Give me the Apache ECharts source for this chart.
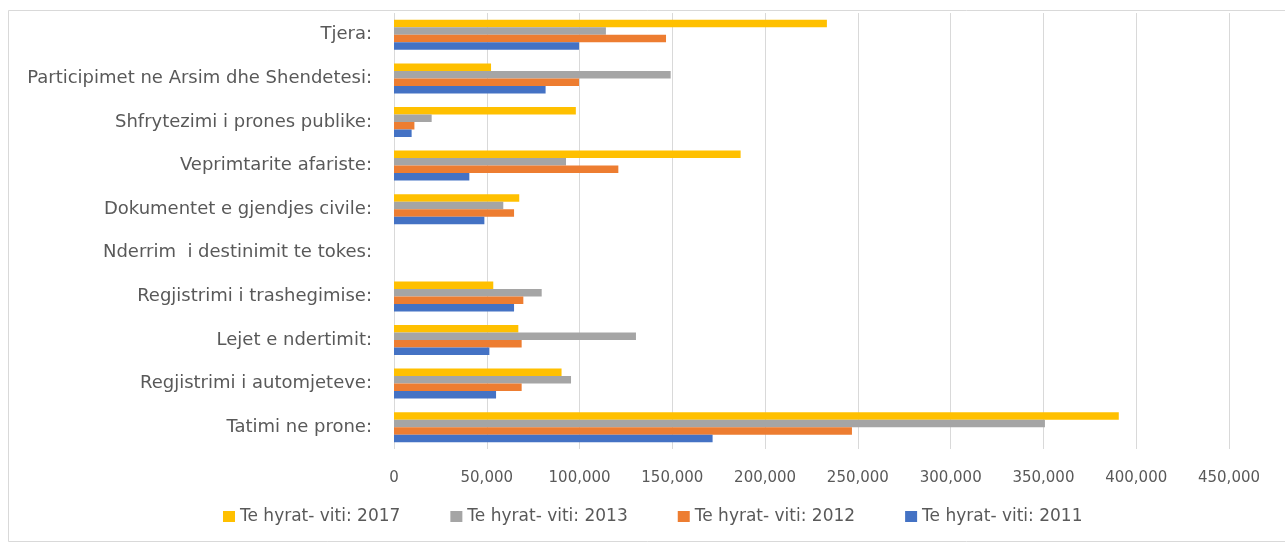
<!DOCTYPE html>
<html>
<head>
<meta charset="utf-8">
<script src="https://cdn.jsdelivr.net/npm/echarts@6/dist/echarts.min.js"></script>
<style>
html,body{margin:0;padding:0;background:#fff;}
#chart{width:1285px;height:544px;}
</style>
</head>
<body>
<div id="chart"></div>
<script>
// Categories listed bottom to top (as ECharts category y-axis)
const categories = [
  "Tatimi ne prone:",
  "Regjistrimi i automjeteve:",
  "Lejet e ndertimit:",
  "Regjistrimi i trashegimise:",
  "Nderrim  i destinimit te tokes:",
  "Dokumentet e gjendjes civile:",
  "Veprimtarite afariste:",
  "Shfrytezimi i prones publike:",
  "Participimet ne Arsim dhe Shendetesi:",
  "Tjera:"
];
// Series listed top-to-bottom within each group
const seriesNames = ["Te hyrat- viti: 2017", "Te hyrat- viti: 2013", "Te hyrat- viti: 2012", "Te hyrat- viti: 2011"];
const values2017 = [390600, 90300, 67000, 53500, 0, 67500, 186800, 98000, 52300, 233300];
const values2013 = [350800, 95400, 130400, 79600, 0, 58900, 92700, 20300, 149100, 114200];
const values2012 = [246800, 68800, 68800, 69700, 0, 64700, 120900, 11000, 99700, 146600];
const values2011 = [171700, 55000, 51400, 64700, 0, 48700, 40600, 9500, 81700, 99700];
const colors = ["#FFC000", "#A5A5A5", "#ED7D31", "#4472C4"];

const allValues = [values2017, values2013, values2012, values2011];
const font = "'DejaVu Sans', 'Open Sans', sans-serif";

const chart = echarts.init(document.getElementById('chart'), null, {renderer: 'canvas'});
chart.setOption({
  animation: false,
  backgroundColor: '#ffffff',
  color: colors,
  graphic: [{
    type: 'rect',
    shape: {x: 8.5, y: 10.5, width: 1290, height: 531},
    style: {fill: 'none', stroke: '#d9d9d9', lineWidth: 1},
    silent: true,
    z: -1
  }],
  grid: {left: 394, right: 56, top: 13, bottom: 95, containLabel: false},
  legend: {
    data: seriesNames,
    bottom: 14,
    left: 218,
    itemWidth: 12,
    itemHeight: 11,
    itemGap: 50,
    icon: 'rect',
    textStyle: {color: '#595959', fontSize: 17, fontFamily: font}
  },
  xAxis: {
    type: 'value',
    min: 0,
    max: 450000,
    interval: 50000,
    axisLine: {show: false},
    axisTick: {show: false},
    splitLine: {show: true, lineStyle: {color: '#d9d9d9', width: 1}},
    axisLabel: {
      color: '#595959', fontSize: 15, fontFamily: font, margin: 22,
      formatter: v => v.toLocaleString('en-US')
    }
  },
  yAxis: {
    type: 'category',
    data: categories,
    axisLine: {show: false},
    axisTick: {show: false},
    axisLabel: {color: '#595959', fontSize: 18, fontFamily: font, margin: 22, padding: [4, 0, 0, 0]}
  },
  series: seriesNames.map((name, i) => ({
    name: name,
    type: 'bar',
    data: allValues[i],
    barWidth: 7.5,
    barGap: '0%',
    itemStyle: {color: colors[i]}
  }))
});
</script>
</body>
</html>
